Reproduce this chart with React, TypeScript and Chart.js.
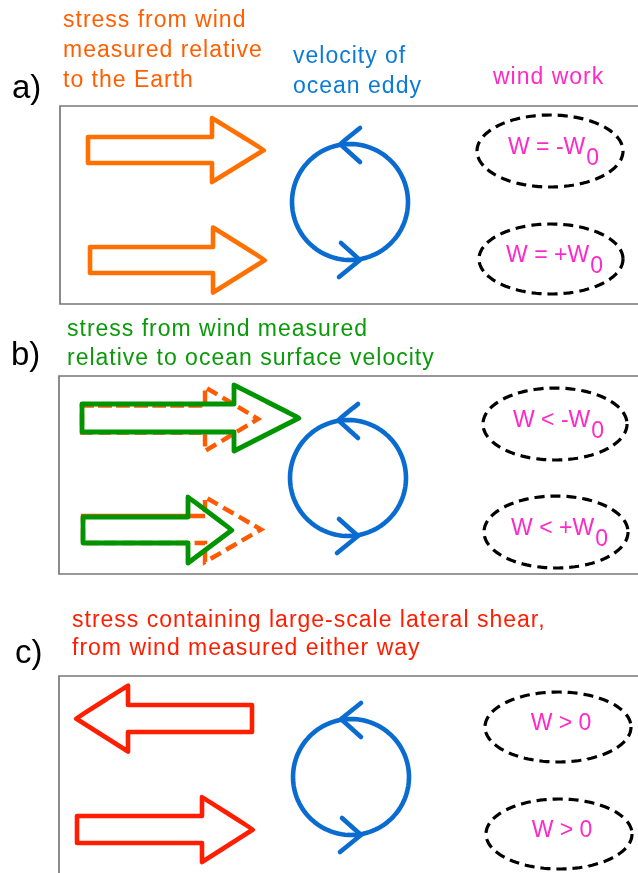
import React, { useEffect, useRef } from "react";
import { Chart, registerables } from "chart.js";

Chart.register(...registerables);

const WIDTH = 638;
const HEIGHT = 873;

// Panel frames (a, b, c)
const panelLeft = [60, 59, 59];
const panelTop = [106, 376, 676];
const panelBottom = [304, 574, 880];

// Arrows: [tailX, headBaseX, tipX, centerY, shaftHalfWidth, headHalfWidth]
const earthArrows = [
  [88, 212, 264, 150, 13, 32],
  [90, 213, 265, 260, 13, 32.5],
];
const earthDashedArrows = [
  [82, 205, 258, 419, 13.5, 32],
  [83, 205, 261, 529.5, 13.5, 32.5],
];
const oceanArrows = [
  [82, 234, 299, 418, 14, 33],
  [83, 188, 232, 530, 13, 33],
];
const shearArrows = [
  [252, 128, 76, 718.5, 13.5, 33],
  [77, 202, 253, 829.5, 13.5, 32.5],
];

// Ocean eddies
const eddyX = [350, 348, 351];
const eddyY = [202, 478, 777];
const eddyRadius = 58;
const chevronTop = [[10, -74], [-10, -58], [10, -40]];
const chevronBottom = [[-9, 41], [10, 58], [-11, 75]];

// Wind-work ellipses
const workX = [550, 551, 555, 556, 558, 559];
const workY = [151, 259, 424, 532, 727, 834];
const workRx = [73, 72, 72, 72, 73, 73];
const workRy = [36, 35, 36, 36, 35, 35];
const workMain = ["W = -W", "W = +W", "W < -W", "W < +W", "W > 0", "W > 0"];
const workSub = ["0", "0", "0", "0", "", ""];

// Captions
const panelLetters = ["a)", "b)", "c)"];
const panelLetterX = [12, 11, 15];
const panelLetterY = [98, 365, 663];
const earthLines = ["stress from wind", "measured relative", "to the Earth"];
const earthLineY = [27, 57, 87];
const eddyLines = ["velocity of", "ocean eddy"];
const eddyLineY = [63, 93];
const workTitle = "wind work";
const relativeLines = ["stress from wind measured", "relative to ocean surface velocity"];
const relativeLineY = [336, 365];
const shearLines = ["stress containing large-scale lateral shear,", "from wind measured either way"];
const shearLineY = [627, 655];

const ORANGE = "#ff7000";
const ORANGE_TEXT = "#ff5f00";
const ORANGE_DASH = "#ff5a00";
const GREEN = "#009400";
const GREEN_TEXT = "#0a9a0a";
const RED = "#ff1e00";
const BLUE = "#0a6bd0";
const BLUE_TEXT = "#0b7bd6";
const MAGENTA = "#ff29c8";
const FRAME = "#777777";
const FONT = '"Liberation Sans", Arial, Helvetica, sans-serif';

type Pt = [number, number];

function arrowOutline(a: number[]): Pt[] {
  const [tail, base, tip, cy, sh, hh] = a;
  return [
    [tail, cy - sh],
    [base, cy - sh],
    [base, cy - hh],
    [tip, cy],
    [base, cy + hh],
    [base, cy + sh],
    [tail, cy + sh],
    [tail, cy - sh],
    [base, cy - sh],
  ];
}

function ellipseOutline(cx: number, cy: number, rx: number, ry: number): Pt[] {
  const pts: Pt[] = [];
  const n = 120;
  for (let i = 0; i <= n; i++) {
    const t = (i / n) * Math.PI * 2;
    pts.push([cx + rx * Math.cos(t), cy + ry * Math.sin(t)]);
  }
  return pts;
}

function lineSet(pts: Pt[], color: string, width: number, dash: number[] = [], join = "round") {
  return {
    data: pts.map(([x, y]) => ({ x, y })),
    showLine: true,
    borderColor: color,
    backgroundColor: color,
    borderWidth: width,
    borderDash: dash,
    borderJoinStyle: join,
    borderCapStyle: dash.length ? "butt" : "round",
    pointRadius: 0,
    pointHoverRadius: 0,
    fill: false,
    // tiny tension forces the full path renderer (no per-pixel decimation)
    tension: 0.000001,
  };
}

function buildDatasets() {
  const list: any[] = [];
  for (let i = 0; i < 3; i++) {
    list.push(
      lineSet(
        [
          [WIDTH + 4, panelTop[i]],
          [panelLeft[i], panelTop[i]],
          [panelLeft[i], panelBottom[i]],
          [WIDTH + 4, panelBottom[i]],
        ],
        FRAME,
        1.7,
        [],
        "miter"
      )
    );
  }
  earthArrows.forEach((a) => list.push(lineSet(arrowOutline(a), ORANGE, 4.6)));
  earthDashedArrows.forEach((a) => list.push(lineSet(arrowOutline(a), ORANGE_DASH, 4.4, [12, 6], "miter")));
  oceanArrows.forEach((a) => list.push(lineSet(arrowOutline(a), GREEN, 4.8)));
  shearArrows.forEach((a) => list.push(lineSet(arrowOutline(a), RED, 4.6)));
  for (let i = 0; i < eddyX.length; i++) {
    const cx = eddyX[i];
    const cy = eddyY[i];
    list.push(lineSet(ellipseOutline(cx, cy, eddyRadius, eddyRadius), BLUE, 4.6));
    list.push(lineSet(chevronTop.map(([dx, dy]) => [cx + dx, cy + dy] as Pt), BLUE, 4.6, [], "miter"));
    list.push(lineSet(chevronBottom.map(([dx, dy]) => [cx + dx, cy + dy] as Pt), BLUE, 4.6, [], "miter"));
  }
  for (let i = 0; i < workX.length; i++) {
    list.push(lineSet(ellipseOutline(workX[i], workY[i], workRx[i], workRy[i]), "#000000", 3.2, [10, 6]));
  }
  const n = list.length;
  list.forEach((d, i) => (d.order = n - i));
  return list;
}

const textPlugin = {
  id: "diagramText",
  afterDatasetsDraw(chart: any) {
    const { ctx } = chart;
    const sx = chart.scales.x;
    const sy = chart.scales.y;
    ctx.save();
    ctx.textBaseline = "alphabetic";
    const setFont = (size: number, spacing: number) => {
      ctx.font = `${size}px ${FONT}`;
      try {
        ctx.letterSpacing = `${spacing}px`;
      } catch (e) {}
    };
    const put = (t: string, vx: number, vy: number, color: string, size: number, spacing = 1) => {
      setFont(size, spacing);
      ctx.fillStyle = color;
      ctx.textAlign = "left";
      ctx.fillText(t, sx.getPixelForValue(vx), sy.getPixelForValue(vy));
    };
    panelLetters.forEach((t, i) => put(t, panelLetterX[i], panelLetterY[i], "#000000", 33, 0));
    earthLines.forEach((t, i) => put(t, 63, earthLineY[i], ORANGE_TEXT, 23));
    eddyLines.forEach((t, i) => put(t, 293, eddyLineY[i], BLUE_TEXT, 23));
    put(workTitle, 493, 84, MAGENTA, 23);
    relativeLines.forEach((t, i) => put(t, 67, relativeLineY[i], GREEN_TEXT, 23));
    shearLines.forEach((t, i) => put(t, 72, shearLineY[i], RED, 23));

    for (let i = 0; i < workX.length; i++) {
      setFont(23, 0);
      const mw = ctx.measureText(workMain[i]).width;
      const sw = workSub[i] ? ctx.measureText(workSub[i]).width : 0;
      const total = mw + sw;
      const start = sx.getPixelForValue(workX[i] + 3) - total / 2;
      const base = sy.getPixelForValue(workY[i] + 3);
      ctx.fillStyle = MAGENTA;
      ctx.textAlign = "left";
      ctx.fillText(workMain[i], start, base);
      if (workSub[i]) ctx.fillText(workSub[i], start + mw + 1, base + 11);
    }
    ctx.restore();
  },
};

export default function App() {
  const ref = useRef<HTMLCanvasElement>(null);
  useEffect(() => {
    document.body.style.margin = "0";
    const canvas = ref.current;
    if (!canvas) return;
    const chart = new Chart(canvas, {
      type: "scatter",
      data: { datasets: buildDatasets() },
      options: {
        animation: false,
        responsive: false,
        devicePixelRatio: 1,
        events: [],
        layout: { padding: 0, autoPadding: false },
        plugins: { legend: { display: false }, tooltip: { enabled: false } },
        scales: {
          x: { type: "linear", min: 0, max: WIDTH, display: false },
          y: { type: "linear", min: 0, max: HEIGHT, reverse: true, display: false },
        },
      },
      plugins: [textPlugin],
    } as any);
    return () => chart.destroy();
  }, []);
  return (
    <div style={{ width: WIDTH, height: HEIGHT, background: "#ffffff" }}>
      <canvas ref={ref} width={WIDTH} height={HEIGHT} style={{ display: "block" }} />
    </div>
  );
}
